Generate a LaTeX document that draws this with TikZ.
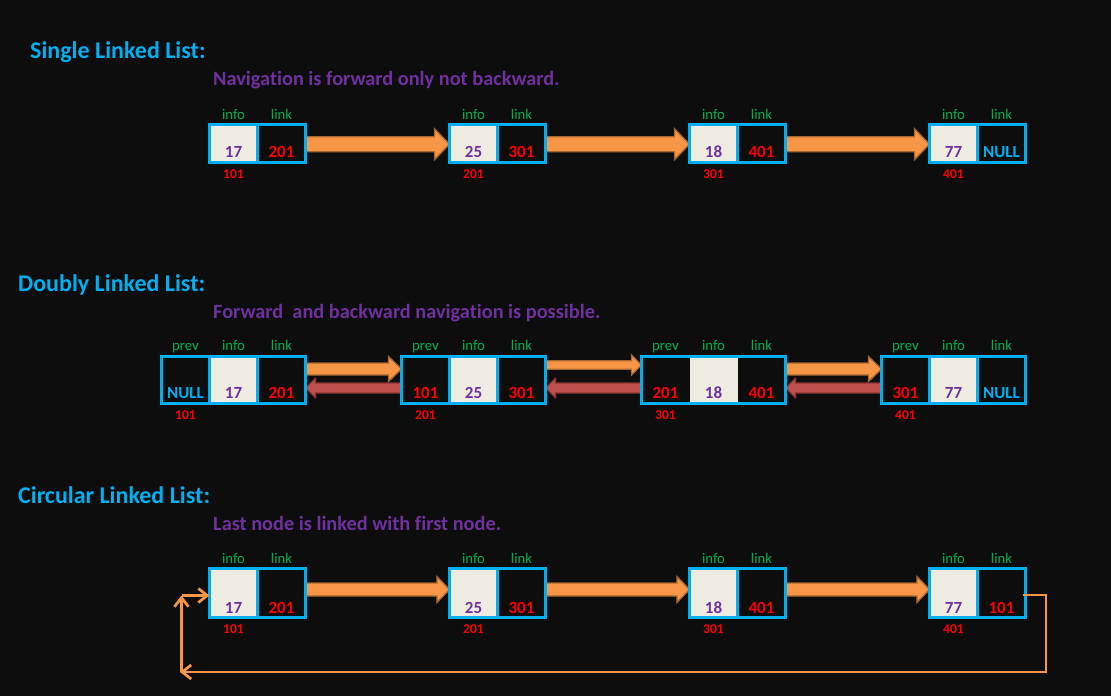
\documentclass[tikz,border=0pt]{standalone}
\usepackage{fontspec}
\setmainfont{Carlito}[Ligatures={NoCommon}]
\usetikzlibrary{calc,arrows.meta}
\definecolor{bg}{HTML}{0D0D0D}
\definecolor{ttl}{HTML}{00B0F0}
\definecolor{sub}{HTML}{7030A0}
\definecolor{grn}{HTML}{00B050}
\definecolor{rd}{HTML}{FF0000}
\definecolor{beige}{HTML}{EEECE1}
\definecolor{oran}{HTML}{F79646}
\definecolor{oranD}{HTML}{A8672F}
\definecolor{redA}{HTML}{C0504D}
\definecolor{redD}{HTML}{8A3634}
\newcommand\fatarrow[7]{%
  \path[#7] let \p1=(#1), \p2=(#2), \p3=($(#2)!#6!(#1)$) in
    (\x1,{\y1-(#3)+(#4)}) -- (\x3,{\y1-(#3)+(#4)}) -- (\x3,{\y1-(#3)+(#5)})
    -- (\x2,{\y1-(#3)}) -- (\x3,{\y1-(#3)-(#5)}) -- (\x3,{\y1-(#3)-(#4)})
    -- (\x1,{\y1-(#3)-(#4)}) -- cycle;}
\begin{document}
\begin{tikzpicture}[x=1pt,y=-1pt,
  cell/.style={minimum width=48pt,inner sep=0pt,outer sep=0pt,draw=none},
  cellS/.style={cell,minimum height=38pt},
  cellD/.style={cell,minimum height=47pt},
  cellC/.style={cell,minimum height=49pt},
  bord/.style={draw=ttl,line width=3pt},
  title/.style={anchor=base west,inner sep=0pt,text=ttl,font=\fontsize{24}{28}\selectfont\bfseries},
  subt/.style={anchor=base west,inner sep=0pt,text=sub,font=\fontsize{20.3}{24}\selectfont\bfseries},
  lab/.style={anchor=base,inner sep=0pt,text=grn,font=\fontsize{14.7}{17}\selectfont},
  val/.style={anchor=base,inner sep=0pt,font=\fontsize{17}{20}\selectfont\bfseries},
  addr/.style={anchor=base,inner sep=0pt,text=rd,font=\fontsize{13.5}{16}\selectfont\bfseries},
  oarr/.style={fill=oran,draw=oranD,line width=1.3pt,line join=miter},
  rarr/.style={fill=redA,draw=redD,line width=1.3pt,line join=miter},
  ret/.style={draw=oran,line width=2.7pt},
  rtip/.style={-{Straight Barb[length=9pt,width=14pt]}}
]
\useasboundingbox (0,0) rectangle (1111,696);
\fill[bg] (0,0) rectangle (1111,696);

% ---------------- Titles
\node[title] (t1) at (30,58) {Single Linked List:};
\node[subt] (st1) at (213,85) {Navigation is forward only not backward.};
\node[title] (t2) at (18,291) {Doubly Linked List:};
\node[subt] (st2) at (213,318) {Forward\ \ and backward navigation is possible.};
\node[title] (t3) at (18,503) {Circular Linked List:};
\node[subt] (st3) at (213,530) {Last node is linked with first node.};

% ---------------- Single linked list
\foreach \k/\v/\l/\a/\c in {1/17/201/101/rd,2/25/301/201/rd,3/18/401/301/rd,4/77/NULL/401/ttl}{
  \pgfmathsetmacro\xc{233.5+240*(\k-1)}
  \node[cellS,fill=beige] (s\k i) at (\xc,143) {};
  \node[cellS,fill=bg] (s\k l) at (\xc+48,143) {};
  \node[lab] (s\k it) at ($(s\k i.north)+(0,-5)$) {info};
  \node[lab] (s\k lt) at ($(s\k l.north)+(0,-5)$) {link};
  \node[val,text=sub] (s\k iv) at ($(s\k i.south)+(0,-4.3)$) {\v};
  \node[val,text=\c] (s\k lv) at ($(s\k l.south)+(0,-4.3)$) {\l};
  \node[addr] (s\k a) at ($(s\k i.south)+(0,16)$) {\a};
}
\foreach \k/\m in {1/2,2/3,3/4}{
  \fatarrow{s\k l.east}{s\m i.west}{1.2pt}{7.5pt}{15.5pt}{15pt}{oarr}
}
\foreach \k in {1,2,3,4}{
  \draw[bord] (s\k i.north west) rectangle (s\k l.south east);
  \draw[bord] (s\k i.north east) -- (s\k i.south east);
}

% ---------------- Doubly linked list
\foreach \k/\pv/\v/\l/\a/\pc/\c in {1/NULL/17/201/101/ttl/rd,2/101/25/301/201/rd/rd,3/201/18/401/301/rd/rd,4/301/77/NULL/401/rd/ttl}{
  \pgfmathsetmacro\xc{185.5+240*(\k-1)}
  \node[cellD,fill=bg] (d\k p) at (\xc,379.5) {};
  \node[cellD,fill=beige] (d\k i) at (\xc+48,379.5) {};
  \node[cellD,fill=bg] (d\k l) at (\xc+96,379.5) {};
  \node[lab] (d\k pt) at ($(d\k p.north)+(0,-5.3)$) {prev};
  \node[lab] (d\k it) at ($(d\k i.north)+(0,-5.3)$) {info};
  \node[lab] (d\k lt) at ($(d\k l.north)+(0,-5.3)$) {link};
  \node[val,text=\pc] (d\k pv) at ($(d\k p.south)+(0,-4.7)$) {\pv};
  \node[val,text=sub] (d\k iv) at ($(d\k i.south)+(0,-4.7)$) {\v};
  \node[val,text=\c] (d\k lv) at ($(d\k l.south)+(0,-4.7)$) {\l};
  \node[addr] (d\k a) at ($(d\k p.south)+(0,16.3)$) {\a};
}
\fatarrow{d1l.east}{d2p.west}{-10.5pt}{6pt}{12.5pt}{13pt}{oarr}
\fatarrow{d2l.east}{d3p.west}{-14.5pt}{4.3pt}{10pt}{10pt}{oarr}
\fatarrow{d3l.east}{d4p.west}{-10.5pt}{6pt}{12.5pt}{13pt}{oarr}
\foreach \k/\m in {1/2,2/3,3/4}{
  \fatarrow{d\m p.west}{d\k l.east}{8.5pt}{5pt}{9.7pt}{10pt}{rarr}
}
\foreach \k in {1,2,3,4}{
  \draw[bord] (d\k p.north west) rectangle (d\k l.south east);
}
\foreach \k in {1,2,4}{
  \draw[bord] (d\k p.north east) -- (d\k p.south east);
  \draw[bord] (d\k i.north east) -- (d\k i.south east);
}

% ---------------- Circular linked list
\foreach \k/\v/\l/\a in {1/17/201/101,2/25/301/201,3/18/401/301,4/77/101/401}{
  \pgfmathsetmacro\xc{233.5+240*(\k-1)}
  \node[cellC,fill=beige] (c\k i) at (\xc,593.3) {};
  \node[cellC,fill=bg] (c\k l) at (\xc+48,593.3) {};
  \node[lab] (c\k it) at ($(c\k i.north)+(0,-5)$) {info};
  \node[lab] (c\k lt) at ($(c\k l.north)+(0,-5)$) {link};
  \node[val,text=sub] (c\k iv) at ($(c\k i.south)+(0,-4.7)$) {\v};
  \node[val,text=rd] (c\k lv) at ($(c\k l.south)+(0,-4.7)$) {\l};
  \node[addr] (c\k a) at ($(c\k i.south)+(0,15.3)$) {\a};
}
\foreach \k/\m in {1/2,2/3,3/4}{
  \fatarrow{c\k l.east}{c\m i.west}{-3.8pt}{6.5pt}{13pt}{12.6pt}{oarr}
}
\foreach \k in {1,2,3,4}{
  \draw[bord] (c\k i.north west) rectangle (c\k l.south east);
  \draw[bord] (c\k i.north east) -- (c\k i.south east);
}
% return link
\coordinate (rs) at ($(c4l.east)+(-3,1.7)$);
\coordinate (rbr) at (1046,672);
\coordinate (rbl) at (180,672);
\coordinate (rtl) at (181.5,595.5);
\draw[ret,rtip] (rs) -| (rbr) -- (rbl);
\draw[ret,rtip] (rbl -| rtl) -- (rtl);
\draw[ret,rtip] (rtl) -- (rtl -| c1i.west);
\end{tikzpicture}
\end{document}
